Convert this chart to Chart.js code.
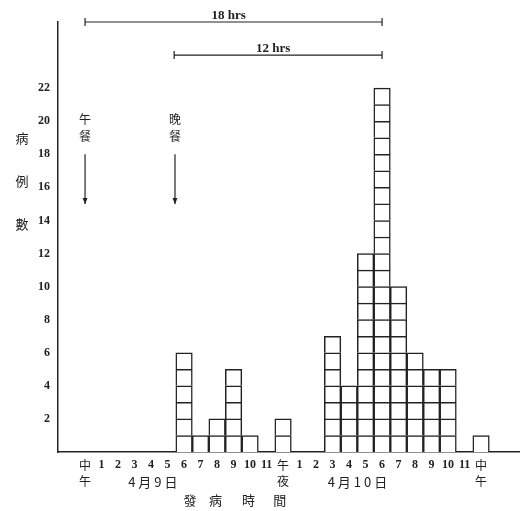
<!DOCTYPE html>
<html>
<head>
<meta charset="utf-8">
<script src="https://cdn.jsdelivr.net/npm/chart.js@4/dist/chart.umd.min.js"></script>
<style>
  body { margin: 0; background: #fff; }
</style>
</head>
<body>
<canvas id="myChart" width="520" height="511"></canvas>
<script>
// hours from noon 4/9 to noon 4/10
var hourLabels = [['中','午'],'1','2','3','4','5','6','7','8','9','10','11',['午','夜'],
                  '1','2','3','4','5','6','7','8','9','10','11',['中','午']];
var cases = [0,0,0,0,0,0,6,1,2,5,1,0,2,0,0,7,4,12,22,10,6,5,5,0,1];
var yTicks = [2,4,6,8,10,12,14,16,18,20,22];

// annotations (x in hour index, y in case units)
var spans = [
    {label: '18 hrs', from: 0, to: 18, level: 26},
    {label: '12 hrs', from: 5.4, to: 18, level: 24}
];
var meals = [
    {label: ['午','餐'], at: 0},
    {label: ['晚','餐'], at: 5.45}
];
var dates = [{label: '4月9日', at: 4.2}, {label: '4月10日', at: 16.6}];
var titleChars = [{ch: '發', at: 6.36}, {ch: '病', at: 7.9}, {ch: '時', at: 9.9}, {ch: '間', at: 11.8}];
var yTitle = [{ch: '病', at: 19}, {ch: '例', at: 16.4}, {ch: '數', at: 13.8}];

var ink = '#222';
var cjk = '"Noto Sans CJK TC", sans-serif';
var num = '"Liberation Serif", serif';

// one dataset per box layer, so each case is one box
var maxCases = Math.max.apply(null, cases);
var datasets = [];
for (var k = 0; k < maxCases; k++) {
    datasets.push({
        data: cases.map(function(c, i) { return {x: i, y: c > k ? 1 : null}; }),
        backgroundColor: '#fff',
        borderColor: ink,
        borderWidth: 1.5,
        barPercentage: 1,
        categoryPercentage: 1
    });
}

var annotate = {
    id: 'annotate',
    afterDraw: function(chart) {
        var ctx = chart.ctx, x = chart.scales.x, y = chart.scales.y;
        ctx.save();
        ctx.strokeStyle = ink;
        ctx.fillStyle = ink;
        ctx.lineWidth = 1.2;

        // time spans
        spans.forEach(function(s) {
            var x0 = x.getPixelForValue(s.from), x1 = x.getPixelForValue(s.to);
            var yy = y.getPixelForValue(s.level);
            ctx.beginPath();
            ctx.moveTo(x0, yy); ctx.lineTo(x1, yy);
            ctx.moveTo(x0, yy - 4); ctx.lineTo(x0, yy + 4);
            ctx.moveTo(x1, yy - 4); ctx.lineTo(x1, yy + 4);
            ctx.stroke();
            ctx.font = 'bold 13px ' + num;
            ctx.textAlign = 'center';
            ctx.textBaseline = 'bottom';
            ctx.fillText(s.label, (x0 + x1) / 2 - 5, yy);
        });

        // meals with arrows
        meals.forEach(function(m) {
            var xx = x.getPixelForValue(m.at);
            ctx.font = '12px ' + cjk;
            ctx.textAlign = 'center';
            ctx.textBaseline = 'middle';
            ctx.fillText(m.label[0], xx, y.getPixelForValue(20.1));
            ctx.fillText(m.label[1], xx, y.getPixelForValue(19.1));
            var a0 = y.getPixelForValue(18), a1 = y.getPixelForValue(15);
            ctx.beginPath();
            ctx.moveTo(xx, a0); ctx.lineTo(xx, a1);
            ctx.stroke();
            ctx.beginPath();
            ctx.moveTo(xx - 2.5, a1 - 6); ctx.lineTo(xx, a1); ctx.lineTo(xx + 2.5, a1 - 6);
            ctx.closePath();
            ctx.fill();
        });

        // dates under the hours
        ctx.font = '13px ' + cjk;
        ctx.textAlign = 'center';
        ctx.textBaseline = 'middle';
        ctx.letterSpacing = '3px';
        dates.forEach(function(d) {
            ctx.fillText(d.label, x.getPixelForValue(d.at), 482);
        });
        ctx.letterSpacing = '0px';
        titleChars.forEach(function(t) {
            ctx.fillText(t.ch, x.getPixelForValue(t.at), 500);
        });

        // y title
        yTitle.forEach(function(t) {
            ctx.fillText(t.ch, 22, y.getPixelForValue(t.at));
        });
        ctx.restore();
    }
};

var myChart = new Chart('myChart', {
    type: 'bar',
    data: {datasets: datasets},
    options: {
        responsive: false,
        animation: false,
        layout: {padding: {top: 22, left: 0, right: 0, bottom: 0}},
        plugins: {legend: {display: false}, tooltip: {enabled: false}},
        scales: {
            x: {
                type: 'linear',
                stacked: true,
                offset: false,
                min: -1.64,
                max: 26.36,
                grid: {display: false, drawTicks: false},
                border: {display: true, color: ink, width: 1.5},
                afterBuildTicks: function(scale) {
                    scale.ticks = hourLabels.map(function(l, i) { return {value: i}; });
                },
                afterFit: function(scale) { scale.height = 59; },
                ticks: {
                    autoSkip: false,
                    maxRotation: 0,
                    padding: 5,
                    color: ink,
                    font: function(c) {
                        var l = c.tick ? hourLabels[c.tick.value] : '';
                        if (Array.isArray(l)) return {family: cjk, size: 12, lineHeight: 1.35};
                        return {family: num, size: 12, weight: 'bold', lineHeight: 1.35};
                    },
                    callback: function(v) { return hourLabels[v]; }
                }
            },
            y: {
                stacked: true,
                min: 0,
                max: 26,
                grid: {display: false, drawTicks: false},
                border: {display: true, color: ink, width: 1.5},
                afterBuildTicks: function(scale) {
                    scale.ticks = yTicks.map(function(v) { return {value: v}; });
                },
                afterFit: function(scale) { scale.width = 58; },
                ticks: {
                    padding: 8,
                    color: ink,
                    font: {family: num, size: 12, weight: 'bold'}
                }
            }
        }
    },
    plugins: [annotate]
});
</script>
</body>
</html>
